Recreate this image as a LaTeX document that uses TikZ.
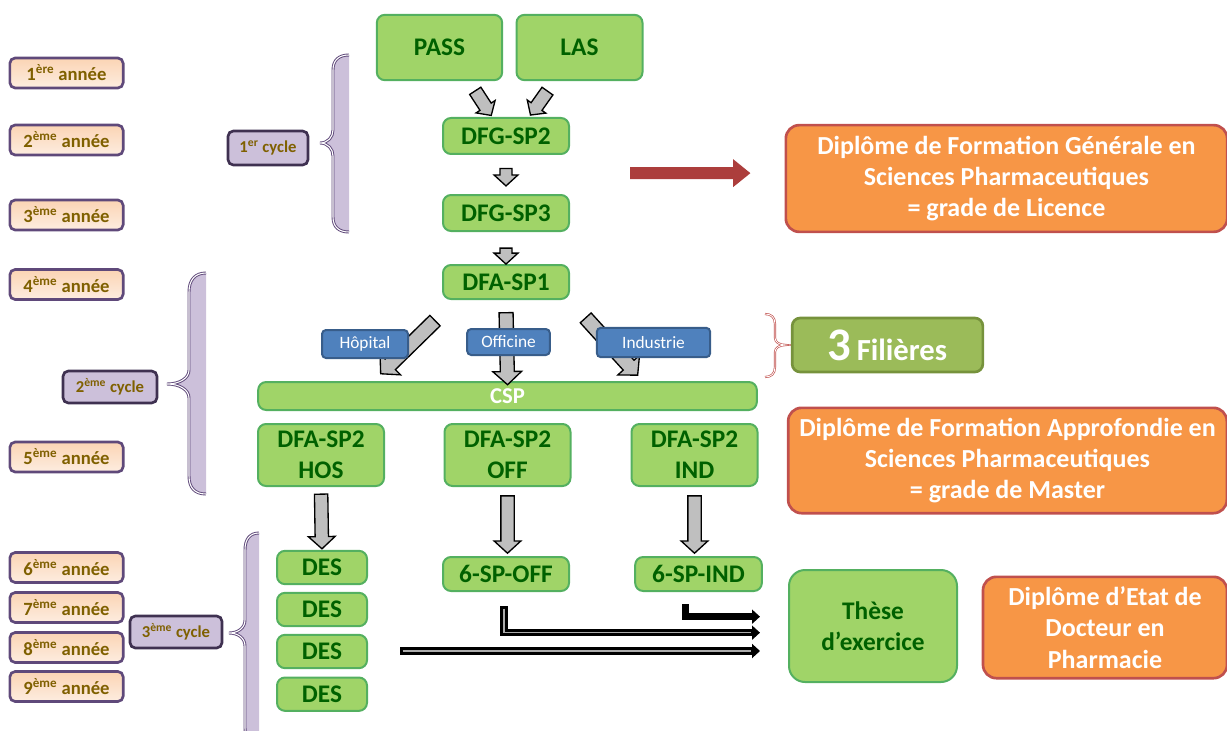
\documentclass[tikz,border=0pt]{standalone}
\usepackage{fontspec}
\setmainfont{Carlito}
\usepackage{xcolor}
\usepackage{tikz}
\usetikzlibrary{arrows.meta}
\usetikzlibrary{shapes.arrows,positioning}

\definecolor{vert}{RGB}{160,212,104}
\definecolor{vertbord}{RGB}{84,176,96}
\definecolor{verttexte}{RGB}{0,97,0}
\definecolor{orangebox}{RGB}{247,150,70}
\definecolor{rougebord}{RGB}{192,80,77}
\definecolor{rouge}{RGB}{172,62,60}
\definecolor{bleu}{RGB}{79,129,189}
\definecolor{bleubord}{RGB}{56,93,138}
\definecolor{filiere}{RGB}{155,187,89}
\definecolor{filierebord}{RGB}{118,146,60}
\definecolor{peche1}{RGB}{251,212,180}
\definecolor{peche2}{RGB}{253,237,224}
\definecolor{violetbord}{RGB}{95,73,122}
\definecolor{lavande}{RGB}{204,192,218}
\definecolor{cyclebord}{RGB}{63,49,81}
\definecolor{ocre}{RGB}{127,96,0}
\definecolor{gris}{RGB}{191,191,191}

\tikzstyle{annee} = [draw=violetbord, line width=2pt, rounded corners=4pt, top color=peche1, bottom color=peche2, text=ocre, font=\bfseries\fontsize{14}{16}\selectfont, minimum width=85pt, minimum height=22.5pt, inner sep=0pt]
\tikzstyle{cyclebox} = [draw=cyclebord, line width=2pt, rounded corners=4pt, fill=lavande, text=ocre, font=\bfseries\fontsize{12.5}{15}\selectfont, minimum height=24pt, inner sep=0pt]
\tikzstyle{etape} = [draw=vertbord, line width=1.5pt, rounded corners=6pt, fill=vert, text=verttexte, font=\bfseries\fontsize{19}{23}\selectfont, minimum width=94.5pt, align=center, inner sep=0pt]
\tikzstyle{diplome} = [draw=rougebord, line width=2pt, rounded corners=10pt, fill=orangebox, text=white, font=\bfseries\fontsize{19.5}{23.5}\selectfont, align=center, inner sep=0pt]
\tikzstyle{filierelab} = [draw=bleubord, line width=1.5pt, rounded corners=3pt, fill=bleu, text=white, font=\fontsize{13}{15}\selectfont, inner sep=0pt, minimum height=20pt]
\tikzstyle{fleche} = [single arrow, draw=black, line width=1pt, fill=gris, inner xsep=0pt, sloped, allow upside down, midway, single arrow tip angle=95]
\tikzstyle{accolade} = [draw=violetbord, double=white, double distance=0.8pt, line width=0.7pt, fill=lavande]
\tikzstyle{trait} = [line width=5.5pt, -{Triangle[length=6pt,width=10.5pt]}, shorten >=21pt]
\tikzstyle{traitdouble} = [trait, postaction={draw, gray!65, line width=0.9pt, -, shorten >=28pt, shorten <=2pt}]

\begin{document}
\begin{tikzpicture}[x=0.75pt, y=-0.75pt]
\useasboundingbox (0,0) rectangle (1227,731);

% annees
\node[annee] (a1) at (66.5,73) {1\textsuperscript{ère} année};
\node[annee] (a2) at (66.5,140) {2\textsuperscript{ème} année};
\node[annee] (a3) at (66.5,215) {3\textsuperscript{ème} année};
\node[annee] (a4) at (66.5,284.5) {4\textsuperscript{ème} année};
\node[annee] (a5) at (66.5,457) {5\textsuperscript{ème} année};
\node[annee] (a6) at (66.5,567.5) {6\textsuperscript{ème} année};
\node[annee] (a7) at (66.5,607.5) {7\textsuperscript{ème} année};
\node[annee] (a8) at (66.5,647.5) {8\textsuperscript{ème} année};
\node[annee] (a9) at (66.5,686.5) {9\textsuperscript{ème} année};

% cycles
\node[cyclebox, minimum width=60pt, minimum height=25.5pt] (c1) at (268,148) {1\textsuperscript{er} cycle};
\node[cyclebox, minimum width=70.5pt] (c2) at (110,387) {2\textsuperscript{ème} cycle};
\node[cyclebox, minimum width=69pt] (c3) at (176,632) {3\textsuperscript{ème} cycle};

% accolades
\path[accolade] (349,55) .. controls (339,55) and (333,60) .. (333,70) -- (333,130) .. controls (333,137) and (328,143) .. (320,143) .. controls (328,143) and (333,149) .. (333,156) -- (333,217) .. controls (333,227) and (339,232) .. (349,232);
\path[accolade] (206,273) .. controls (195,273) and (189,280) .. (189,292) -- (189,370) .. controls (189,378) and (180,384) .. (167,384) .. controls (180,384) and (189,390) .. (189,398) -- (189,476) .. controls (189,488) and (195,494) .. (206,494);
\path[accolade] (259,533) .. controls (250,533) and (245,539) .. (245,550) -- (245,620) .. controls (245,628) and (238,633) .. (229,633) .. controls (238,633) and (245,638) .. (245,646) -- (245,728) .. controls (245,740) and (250,745) .. (259,745);
\draw[draw=rougebord, double=white, double distance=0.6pt, line width=0.5pt] (765,314) .. controls (771,314) and (775,317) .. (775,324) -- (775,338) .. controls (775,342) and (779,345) .. (786,345) .. controls (779,345) and (775,348) .. (775,352) -- (775,367) .. controls (775,374) and (771,377) .. (765,377);

% parcours
\node[etape, minimum width=94pt, minimum height=49pt] (pass) at (439.5,47.5) {PASS};
\node[etape, minimum height=49pt] (las) at (579.5,47.5) {LAS};
\node[etape, minimum height=27pt] (dfg2) at (506,136) {DFG-SP2};
\node[etape, minimum height=27pt] (dfg3) at (506,213) {DFG-SP3};
\node[etape, minimum height=25.5pt] (dfa1) at (506,282) {DFA-SP1};
\node[etape, minimum width=374pt, minimum height=21pt, text=white, font=\bfseries\fontsize{17}{19}\selectfont] (csp) at (507.5,396) {CSP};
\node[etape, minimum height=46.5pt] (hos) at (321,455) {DFA-SP2\\HOS};
\node[etape, minimum height=46.5pt] (off) at (507.5,455) {DFA-SP2\\OFF};
\node[etape, minimum height=46.5pt] (ind) at (694.5,455) {DFA-SP2\\IND};
\node[etape, minimum width=67.5pt, minimum height=25pt] (des1) at (322,567.5) {DES};
\node[etape, minimum width=67.5pt, minimum height=25pt, below=5pt of des1] (des2) {DES};
\node[etape, minimum width=67.5pt, minimum height=25pt, below=5pt of des2] (des3) {DES};
\node[etape, minimum width=67.5pt, minimum height=25pt, below=5.5pt of des3] (des4) {DES};
\node[etape, minimum height=25.5pt] (spoff) at (506,574) {6-SP-OFF};
\node[etape, minimum width=95pt, minimum height=25.5pt] (spind) at (698.5,574) {6-SP-IND};
\node[etape, minimum width=126pt, minimum height=84pt, rounded corners=12pt] (these) at (873,626) {Thèse\\d’exercice};

% diplomes
\node[diplome, minimum width=331pt, minimum height=80pt] (licence) at (1006.5,178.5) {Diplôme de Formation Générale en\\Sciences Pharmaceutiques\\= grade de Licence};
\node[diplome, minimum width=329pt, minimum height=79pt] (master) at (1007.5,460.5) {Diplôme de Formation Approfondie en\\Sciences Pharmaceutiques\\= grade de Master};
\node[diplome, minimum width=183pt, minimum height=76pt] (etat) at (1105,627.5) {Diplôme d’Etat de\\Docteur en\\Pharmacie};
\node[draw=filierebord, line width=2pt, rounded corners=6pt, fill=filiere, text=white, minimum width=143pt, minimum height=40.5pt, inner sep=0pt, font=\bfseries] (trois) at (887.5,345) {{\fontsize{35}{38}\selectfont 3}\, {\fontsize{23}{26}\selectfont Filières}};

% fleches grises
\path ([xshift=26pt,yshift=-6pt]pass.south) -- ([xshift=-12.75pt,yshift=3.75pt]dfg2.north) node[fleche, minimum height=22pt, inner ysep=4.5pt, single arrow head extend=3.5pt] (f1) {};
\path ([xshift=-23pt,yshift=-6pt]las.south) -- ([xshift=20pt,yshift=3.75pt]dfg2.north) node[fleche, minimum height=22pt, inner ysep=4.5pt, single arrow head extend=3.5pt] (f2) {};
\path (dfg2.south) -- (dfg3.north) node[fleche, minimum height=13pt, inner ysep=4pt, single arrow head extend=4.5pt] (f3) {};
\path ([yshift=-8pt]dfg3.south) -- (dfa1.north) node[fleche, minimum height=12pt, inner ysep=4pt, single arrow head extend=4.5pt] (f4) {};
\path ([xshift=-3.75pt,yshift=-14pt]dfa1.south west) -- ([xshift=-93pt,yshift=7.5pt]csp.north) node[fleche, minimum height=57pt, inner ysep=5pt, single arrow head extend=5.5pt] (f5) {};
\path ([yshift=-7.5pt]dfa1.south) -- (csp.north) node[fleche, minimum height=54pt, inner ysep=4.75pt, single arrow head extend=5.5pt] (f6) {};
\path ([xshift=10.5pt,yshift=-12pt]dfa1.south east) -- ([xshift=95.5pt,yshift=6.75pt]csp.north) node[fleche, minimum height=58pt, inner ysep=5pt, single arrow head extend=5.5pt] (f7) {};
\path (hos.south) -- (des1.north) node[fleche, minimum height=41pt, inner ysep=4.5pt, single arrow head extend=5pt] (f8) {};
\path (off.south) -- (off.south |- spoff.north) node[fleche, minimum height=43pt, inner ysep=4.5pt, single arrow head extend=5pt] (f9) {};
\path (ind.south) -- (ind.south |- spind.north) node[fleche, minimum height=43pt, inner ysep=4.5pt, single arrow head extend=5pt] (f10) {};

% filieres
\node[filierelab, minimum width=64.5pt, minimum height=21pt] (hop) at (365,344) {Hôpital};
\node[filierelab, minimum width=62pt, minimum height=19.5pt] (offi) at (508.5,342) {Officine};
\node[filierelab, minimum width=85pt, minimum height=22pt] (indu) at (653.5,342.5) {Industrie};

% fleche rouge
\coordinate (rdep) at (630,173);
\draw[line width=9pt, rouge, -{Triangle[length=13pt,width=20pt]}] (rdep) -- ([xshift=-25.5pt, yshift=4pt]licence.west);

% vers la these
\coordinate (desdep) at (400,651);
\draw[trait] ([xshift=-10pt,yshift=-9pt]spind.south) |- ([yshift=7pt]these.west);
\draw[traitdouble] ([xshift=-1.5pt,yshift=-10.5pt]spoff.south) |- ([yshift=-5pt]these.west);
\draw[traitdouble] (desdep) -- (desdep -| these.west);

\end{tikzpicture}
\end{document}
